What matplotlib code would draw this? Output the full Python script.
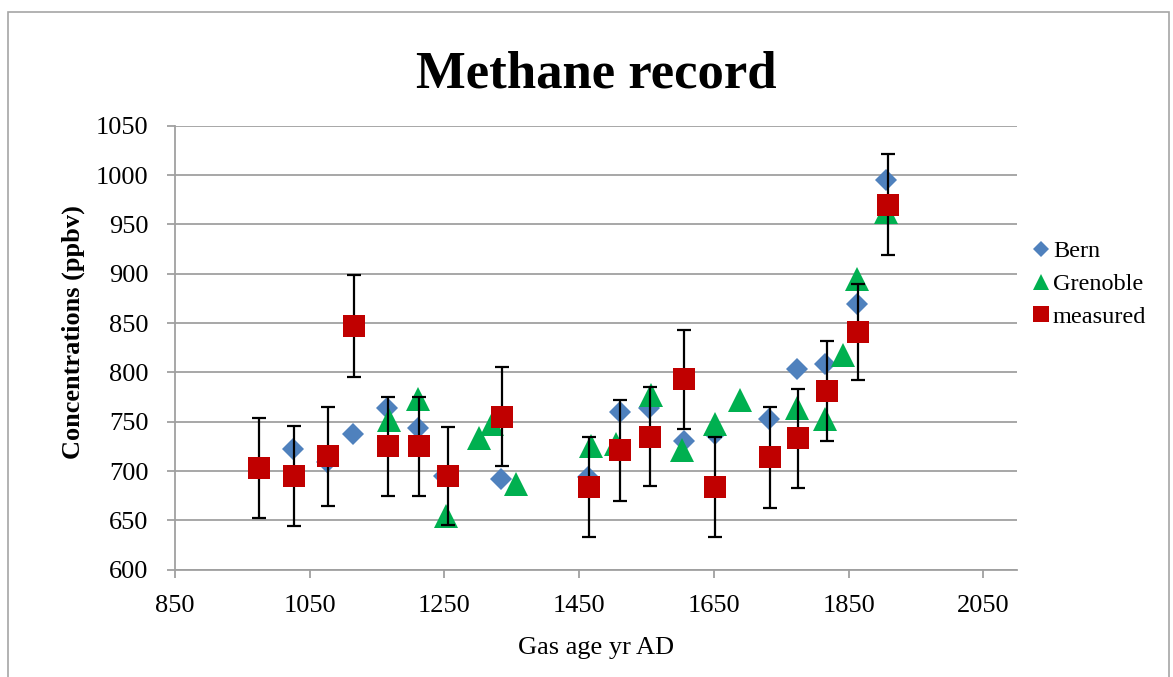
import matplotlib
matplotlib.use("Agg")
import matplotlib.pyplot as plt
from matplotlib.patches import Rectangle

# ---- data ----
bern_year = [1025, 1075, 1114, 1165, 1211, 1250, 1334, 1463, 1510, 1554, 1605, 1651, 1732, 1773, 1815, 1863, 1906]
bern_conc = [722, 709, 738, 764, 744, 695, 692, 694, 760, 764, 730, 738, 753, 803, 808, 869, 995]

gren_year = [1167, 1211, 1252, 1302, 1320, 1356, 1467, 1505, 1556, 1602, 1651, 1689, 1773, 1815, 1842, 1863, 1905]
gren_conc = [752, 773, 654, 733, 748, 687, 725, 727, 777, 721, 748, 772, 764, 753, 818, 895, 963]

meas_year = [975, 1026, 1077, 1115, 1166, 1212, 1256, 1335, 1465, 1511, 1555, 1606, 1652, 1733, 1775, 1818, 1864, 1908]
meas_conc = [703, 695, 715, 847, 725, 725, 695, 755, 684, 721, 735, 793, 684, 714, 733, 781, 841, 970]
meas_err = [51, 51, 50, 52, 50, 50, 50, 50, 51, 51, 50, 50, 51, 51, 50, 51, 49, 51]

x_ticks = [850, 1050, 1250, 1450, 1650, 1850, 2050]
y_ticks = [600, 650, 700, 750, 800, 850, 900, 950, 1000, 1050]

serif = ["Liberation Serif", "DejaVu Serif"]
plt.rcParams["font.family"] = serif

W, H = 1173, 677
fig = plt.figure(figsize=(W / 100, H / 100), dpi=100)
fig.patch.set_facecolor("white")

# outer chart border
fig.patches.append(Rectangle((8 / W, -0.05), 1161 / W, 1 - 12 / H + 0.05,
                             transform=fig.transFigure, fill=False,
                             edgecolor="#a6a6a6", linewidth=1.2))

L, R, T, B = 175, 1017, 125.7, 569.7
ax = fig.add_axes([L / W, 1 - B / H, (R - L) / W, (B - T) / H])

ax.set_xlim(850, 2100)
ax.set_ylim(600, 1050)
ax.set_xticks(x_ticks)
ax.set_yticks(y_ticks)
ax.grid(axis="y", color="#a0a0a0", linewidth=1.3, zorder=0)
ax.set_axisbelow(True)

for s in ["top", "right"]:
    ax.spines[s].set_visible(False)
for s in ["left", "bottom"]:
    ax.spines[s].set_color("#a0a0a0")
    ax.spines[s].set_linewidth(1.3)

ax.tick_params(axis="both", colors="#a0a0a0", length=6, width=1.3, labelcolor="black", labelsize=19)
ax.tick_params(axis="y", pad=13)
ax.tick_params(axis="x", pad=12)

ax.plot(bern_year, bern_conc, linestyle="none", marker="D", ms=11.5,
        color="#4F81BD", markeredgewidth=0, label="Bern", zorder=3)
ax.plot(gren_year, gren_conc, linestyle="none", marker="^", ms=17,
        color="#00B050", markeredgewidth=0, label="Grenoble", zorder=4)
ax.errorbar(meas_year, meas_conc, yerr=meas_err, fmt="none", ecolor="black",
            elinewidth=1.6, capsize=5, capthick=1.6, zorder=5)
ax.plot(meas_year, meas_conc, linestyle="none", marker="s", ms=16,
        color="#C00000", markeredgewidth=0, label="measured", zorder=6)

fig.text(596 / W, 1 - 75 / H, "Methane record", ha="center", va="center",
         fontsize=38, fontweight="bold")
fig.text(596 / W, 1 - 648 / H, "Gas age yr AD", ha="center", va="center", fontsize=19)
fig.text(73 / W, 1 - 332 / H, "Concentrations (ppbv)", ha="center", va="center",
         rotation=90, fontsize=19, fontweight="bold")

leg = ax.legend(loc="center left", bbox_to_anchor=(1031 / W, 1 - 284 / H),
                bbox_transform=fig.transFigure, frameon=False, fontsize=17.5,
                markerscale=0.7, handlelength=0.8, handletextpad=0.1,
                borderpad=0, borderaxespad=0, labelspacing=0.45)

fig.savefig("out.png", dpi=100)
